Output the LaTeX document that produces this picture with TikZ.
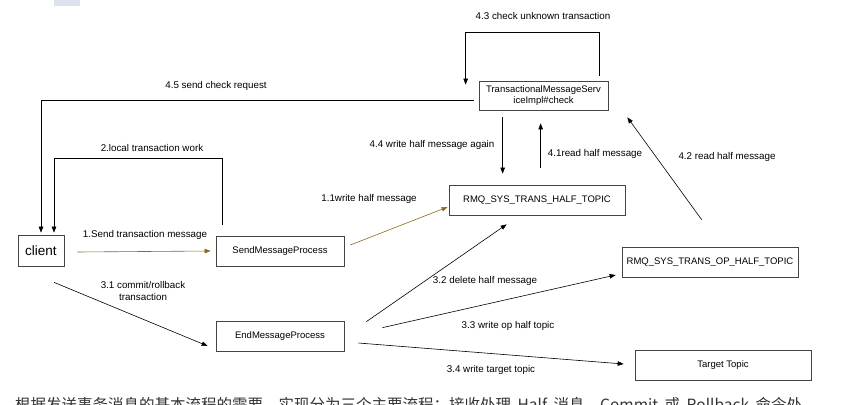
\documentclass[tikz,border=0pt]{standalone}
\usepackage{fontspec}
\setmainfont{Liberation Sans}
\newfontfamily\cjk{Noto Sans CJK SC}
\usetikzlibrary{arrows.meta,calc}
\definecolor{boxline}{HTML}{444444}
\definecolor{goldarrow}{HTML}{8A6A1C}
\definecolor{tabgray}{HTML}{DDE3EC}
\definecolor{cjktext}{HTML}{333333}
\newcommand{\wsp}{\hspace{6.5pt}}
\tikzset{
  box/.style={draw=boxline, line width=0.7pt, fill=white, inner sep=1pt, align=center,
    font=\fontsize{9.5}{11.5}\selectfont},
  lbl/.style={inner sep=0pt, align=center, font=\fontsize{9.8}{12}\selectfont},
  arr/.style={draw=black, line width=0.6pt, -{Triangle[length=6pt,width=4.5pt]}},
  goldarr/.style={draw=goldarrow, line width=0.6pt, -{Triangle[length=6pt,width=4.5pt]}},
}
\begin{document}
\begin{tikzpicture}[x=1pt,y=-1pt]
\useasboundingbox (0,0) rectangle (853,404);
\begin{scope}
\clip (0,0) rectangle (853,404);
\fill[tabgray] (54,0) rectangle (80,6);

% nodes
\node[box, minimum width=46pt, minimum height=31pt, font=\fontsize{13.5}{15}\selectfont] (client) at (41,250.5) {client};
\node[box, minimum width=128pt, minimum height=30pt] (send) at (280,251) {SendMessageProcess};
\node[box, minimum width=128pt, minimum height=30pt] (endp) at (280,336) {EndMessageProcess};
\node[box, minimum width=129pt, minimum height=29pt] (tms) at (543.5,95.5) {TransactionalMessageServ\\iceImpl\#check};
\node[box, minimum width=176pt, minimum height=30pt] (half) at (537,200) {RMQ\_SYS\_TRANS\_HALF\_TOPIC};
\node[box, minimum width=176pt, minimum height=30pt] (ophalf) at (710,262) {RMQ\_SYS\_TRANS\_OP\_HALF\_TOPIC};
\node[box, minimum width=176pt, minimum height=30pt] (target) at (723,365) {Target Topic};

% connectors
\draw[goldarr] ($(client.east)+(13,1.5)$) -- ($(send.west)+(-5,0)$);
\draw[goldarr] ($(send.east)+(6,-6)$) -- ($(half.west)+(-1,7)$);
\draw[arr] ($(send.north west)+(7,-11)$) -- ++(0,-66) -| ($(client.north)+(13,-2)$);
\draw[arr] ($(tms.west)+(-5,4.5)$) -| ($(client.north)+(0,-2)$);
\draw[arr] ($(tms.north east)+(-9,-5)$) -- ++(0,-43) -| ($(tms.north west)+(-13,4)$);
\draw[arr] ($(tms.south west)+(24,7)$) -- ($(half.north west)+(54,-11)$);
\draw[arr] ($(half.north west)+(92,-17)$) -- ($(tms.south west)+(62,13)$);
\draw[arr] ($(ophalf.north west)+(80,-27)$) -- ($(tms.south east)+(19,7)$);
\draw[arr] ($(client.south)+(13,16)$) -- ($(endp.west)+(-8,10)$);
\draw[arr] ($(endp.north east)+(22,1)$) -- ($(half.south west)+(58,9)$);
\draw[arr] ($(endp.north east)+(38,7)$) -- ($(ophalf.west)+(-6,13)$);
\draw[arr] ($(endp.east)+(14,7)$) -- ($(target.west)+(-11,-1)$);

% labels
\node[lbl] (l45) at (216,86) {4.5 send check request};
\node[lbl] (l2) at (152,148) {2.local transaction work};
\node[lbl] (l1) at (145,235) {1.Send transaction message};
\node[lbl] (l31) at (143,291) {3.1 commit/rollback\\transaction};
\node[lbl] (l11) at (369,199) {1.1write half message};
\node[lbl] (l44) at (432,145) {4.4 write half message again};
\node[lbl] (l41) at (595,154) {4.1read half message};
\node[lbl] (l42) at (727,157) {4.2 read half message};
\node[lbl] (l43) at (543,16) {4.3 check unknown transaction};
\node[lbl] (l32) at (485,281) {3.2 delete half message};
\node[lbl] (l33) at (508,326) {3.3 write op half topic};
\node[lbl] (l34) at (491,370) {3.4 write target topic};

% cut-off paragraph text (cut by the picture's lower edge, as in the reference)
\node[anchor=base west, inner sep=0pt, text=cjktext, font=\cjk\fontsize{15.5}{18}\selectfont] (para) at (15,410.5)
  {根据发送事务消息的基本流程的需要，实现分为三个主要流程：接收处理\wsp Half\wsp 消息、Commit\wsp 或\wsp Rollback\wsp 命令处};
\end{scope}
\end{tikzpicture}
\end{document}
